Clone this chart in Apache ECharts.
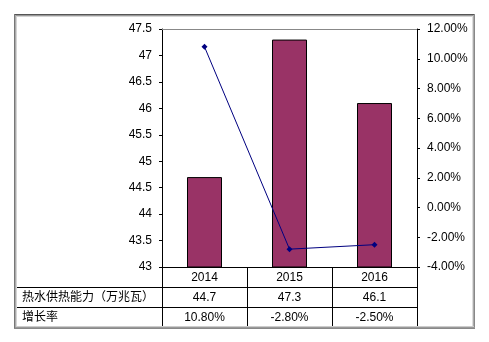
<!DOCTYPE html>
<html>
<head>
<meta charset="utf-8">
<script src="https://cdn.jsdelivr.net/npm/echarts@6/dist/echarts.min.js"></script>
<style>
  html, body { margin: 0; padding: 0; background: #fff; }
  #chart { width: 489px; height: 342px; }
</style>
</head>
<body>
<div id="chart"></div>
<script>
// Hot-water heating capacity by year, with year-on-year growth rate
const years = ['2014', '2015', '2016'];
const capacity = [44.7, 47.3, 46.1];      // 万兆瓦
const growthRate = [10.8, -2.8, -2.5];    // %
const capacityLabel = '热水供热能力（万兆瓦）';
const growthLabel = '增长率';

const FONT = '"Liberation Sans", Arial, "Noto Sans CJK SC", sans-serif';
const chart = echarts.init(document.getElementById('chart'), null, { renderer: 'canvas' });

const G = { left: 162, right: 417, top: 29, bottom: 267 };
const TABLE = { left: 17, row1: 287, row2: 307, bottom: 326 };

const option = {
  animation: false,
  backgroundColor: '#fff',
  textStyle: { fontFamily: FONT },
  grid: { left: G.left, right: 489 - G.right, top: G.top, bottom: 342 - G.bottom },
  xAxis: {
    type: 'category',
    data: years,
    axisLine: { onZero: false, lineStyle: { color: '#000', width: 1 } },
    axisTick: { show: false },
    axisLabel: { color: '#000', fontSize: 12, fontFamily: FONT, margin: 5 }
  },
  yAxis: [
    {
      type: 'value', min: 43, max: 47.5, interval: 0.5, position: 'left',
      axisLine: { show: true, lineStyle: { color: '#000' } },
      axisTick: { show: true, length: 3, lineStyle: { color: '#000' } },
      splitLine: { show: false },
      axisLabel: { color: '#000', fontSize: 12, fontFamily: FONT, margin: 10 }
    },
    {
      type: 'value', min: -4, max: 12, interval: 2, position: 'right',
      axisLine: { show: true, lineStyle: { color: '#000' } },
      axisTick: { show: true, length: 3, lineStyle: { color: '#000' } },
      splitLine: { show: false },
      axisLabel: { color: '#000', fontSize: 12, fontFamily: FONT, margin: 10,
        formatter: v => v.toFixed(2) + '%' }
    }
  ],
  series: [
    {
      type: 'bar', yAxisIndex: 0, data: capacity, barWidth: 35,
      itemStyle: { color: '#993366', borderColor: '#000', borderWidth: 1 }
    },
    {
      type: 'line', yAxisIndex: 1, data: growthRate,
      symbol: 'diamond', symbolSize: 6,
      lineStyle: { color: '#000080', width: 1 },
      itemStyle: { color: '#000080' }
    }
  ]
};
chart.setOption(option);

// Frame, plot border and data table beneath the axis
const els = [];
function hline(x1, x2, y, color, w) {
  els.push({ type: 'line', shape: { x1, y1: y, x2, y2: y }, style: { stroke: color, lineWidth: w || 1 }, z: 10 });
}
function vline(x, y1, y2, color, w) {
  els.push({ type: 'line', shape: { x1: x, y1, x2: x, y2 }, style: { stroke: color, lineWidth: w || 1 }, z: 10 });
}
// outer shaded frame
hline(14, 475, 14.5, '#555'); hline(15, 474, 15.5, '#999'); hline(16, 473, 16.5, '#d4d4d4');
vline(14.5, 14, 328, '#777'); vline(15.5, 15, 327, '#aaa'); vline(16.5, 16, 326, '#d4d4d4');
vline(472.5, 16, 327, '#ddd'); vline(473.5, 15, 328, '#aaa'); vline(474.5, 14, 329, '#888');
hline(16, 474, 326.5, '#ccc'); hline(15, 475, 327.5, '#999'); hline(14, 475, 328.5, '#888');
// plot top border
hline(G.left, G.right, G.top + 0.5, '#888');

// table grid
const leftX = chart.convertToPixel({ xAxisIndex: 0 }, years[0]);
const step = chart.convertToPixel({ xAxisIndex: 0 }, years[1]) - leftX;
hline(TABLE.left, G.right, TABLE.row1 + 0.5, '#000');
hline(TABLE.left, G.right, TABLE.row2 + 0.5, '#000');
vline(G.left + 0.5, G.bottom, TABLE.bottom, '#000');
vline(G.right + 0.5, G.bottom, TABLE.bottom, '#000');
for (let i = 1; i < years.length; i++) {
  vline(Math.round(leftX + step * (i - 0.5)) + 0.5, G.bottom, TABLE.bottom, '#000');
}
function text(x, y, s, align) {
  els.push({ type: 'text', x, y, z: 11,
    style: { text: s, fill: '#000', font: '12px ' + FONT, textAlign: align || 'center', textVerticalAlign: 'middle' } });
}
text(22, (TABLE.row1 + TABLE.row2) / 2 + 1, capacityLabel, 'left');
text(22, (TABLE.row2 + TABLE.bottom) / 2 + 1, growthLabel, 'left');
years.forEach((y, i) => {
  const cx = chart.convertToPixel({ xAxisIndex: 0 }, y);
  text(cx, (TABLE.row1 + TABLE.row2) / 2 + 1, String(capacity[i]));
  text(cx, (TABLE.row2 + TABLE.bottom) / 2 + 1, growthRate[i].toFixed(2) + '%');
});
chart.setOption({ graphic: { elements: els } });
</script>
</body>
</html>
